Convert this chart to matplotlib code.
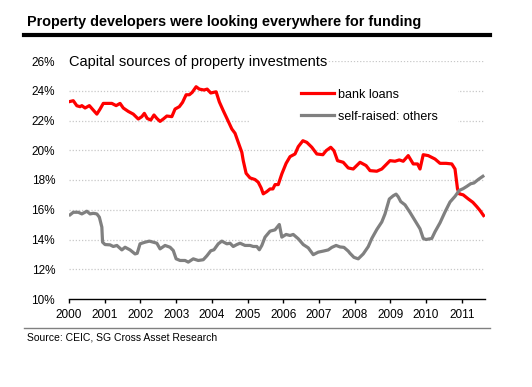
import matplotlib
matplotlib.use("Agg")
from matplotlib import pyplot as plt
from matplotlib.lines import Line2D
from matplotlib.patches import Rectangle

plt.rcParams['font.family'] = ['Liberation Sans', 'DejaVu Sans']

# bank loans share (%)
bank_t = [2000.03, 2000.12, 2000.22, 2000.31, 2000.36, 2000.45, 2000.57, 2000.68, 2000.78, 2000.87,
          2000.96, 2001.20, 2001.32, 2001.43, 2001.52, 2001.66, 2001.80, 2001.94, 2002.04, 2002.11,
          2002.19, 2002.29, 2002.38, 2002.46, 2002.55, 2002.64, 2002.74, 2002.88, 2002.97, 2003.09,
          2003.18, 2003.28, 2003.37, 2003.45, 2003.56, 2003.65, 2003.78, 2003.87, 2003.97, 2004.12,
          2004.21, 2004.32, 2004.43, 2004.56, 2004.65, 2004.74, 2004.84, 2004.88, 2004.96, 2005.07,
          2005.21, 2005.30, 2005.38, 2005.44, 2005.54, 2005.63, 2005.71, 2005.77, 2005.86, 2005.96,
          2006.08, 2006.19, 2006.33, 2006.42, 2006.55, 2006.66, 2006.80, 2006.94, 2007.11, 2007.20,
          2007.33, 2007.42, 2007.52, 2007.68, 2007.82, 2007.96, 2008.15, 2008.32, 2008.43, 2008.62,
          2008.76, 2008.90, 2008.99, 2009.13, 2009.25, 2009.36, 2009.50, 2009.64, 2009.76, 2009.83,
          2009.92, 2010.06, 2010.25, 2010.39, 2010.56, 2010.72, 2010.81, 2010.88, 2010.93, 2011.04,
          2011.18, 2011.31, 2011.42, 2011.51, 2011.61]
bank = [23.28, 23.33, 22.99, 22.93, 23.0, 22.84, 23.0, 22.7, 22.43, 22.77,
        23.15, 23.15, 23.0, 23.15, 22.84, 22.61, 22.43, 22.1, 22.26, 22.48,
        22.14, 22.03, 22.37, 22.14, 21.94, 22.1, 22.3, 22.26, 22.77, 22.93,
        23.22, 23.73, 23.73, 23.89, 24.27, 24.11, 24.05, 24.11, 23.85, 23.93,
        23.25, 22.66, 22.1, 21.43, 21.14, 20.53, 19.86, 19.3, 18.45, 18.14,
        18.03, 17.85, 17.47, 17.07, 17.22, 17.4, 17.4, 17.69, 17.69, 18.41,
        19.12, 19.57, 19.75, 20.24, 20.64, 20.53, 20.2, 19.75, 19.7, 19.97,
        20.2, 19.97, 19.3, 19.19, 18.81, 18.74, 19.19, 18.97, 18.63, 18.59,
        18.74, 19.08, 19.3, 19.26, 19.35, 19.26, 19.64, 19.08, 19.08, 18.74,
        19.7, 19.64, 19.41, 19.12, 19.12, 19.08, 18.74, 17.4, 17.07, 17.0,
        16.73, 16.5, 16.21, 15.95, 15.61]

# self-raised: others share (%)
self_t = [2000.03, 2000.12, 2000.26, 2000.36, 2000.50, 2000.59, 2000.68, 2000.78, 2000.85, 2000.92,
          2000.94, 2001.01, 2001.15, 2001.24, 2001.34, 2001.48, 2001.57, 2001.71, 2001.85, 2001.91,
          2001.99, 2002.13, 2002.25, 2002.36, 2002.46, 2002.55, 2002.69, 2002.83, 2002.92, 2003.00,
          2003.11, 2003.25, 2003.34, 2003.48, 2003.62, 2003.76, 2003.86, 2003.97, 2004.06, 2004.18,
          2004.28, 2004.42, 2004.51, 2004.60, 2004.70, 2004.79, 2004.93, 2005.07, 2005.16, 2005.26,
          2005.33, 2005.40, 2005.49, 2005.63, 2005.77, 2005.89, 2005.96, 2006.08, 2006.19, 2006.28,
          2006.42, 2006.56, 2006.70, 2006.84, 2006.98, 2007.12, 2007.26, 2007.36, 2007.48, 2007.59,
          2007.70, 2007.82, 2007.87, 2007.98, 2008.10, 2008.24, 2008.38, 2008.48, 2008.62, 2008.76,
          2008.85, 2008.97, 2009.08, 2009.16, 2009.22, 2009.29, 2009.41, 2009.55, 2009.69, 2009.83,
          2009.92, 2010.00, 2010.16, 2010.25, 2010.39, 2010.53, 2010.67, 2010.81, 2010.93, 2011.04,
          2011.14, 2011.25, 2011.34, 2011.47, 2011.59]
self_raised = [15.66, 15.83, 15.83, 15.72, 15.9, 15.72, 15.76, 15.72, 15.5, 14.83,
               13.82, 13.66, 13.64, 13.53, 13.6, 13.3, 13.48, 13.3, 13.03, 13.07,
               13.71, 13.82, 13.89, 13.82, 13.75, 13.37, 13.6, 13.48, 13.26, 12.7,
               12.59, 12.59, 12.48, 12.7, 12.59, 12.64, 12.9, 13.24, 13.31, 13.71,
               13.89, 13.71, 13.75, 13.53, 13.66, 13.75, 13.6, 13.6, 13.53, 13.53,
               13.31, 13.6, 14.16, 14.56, 14.65, 15.01, 14.16, 14.34, 14.27, 14.34,
               14.05, 13.66, 13.44, 12.98, 13.15, 13.22, 13.3, 13.47, 13.6, 13.5,
               13.47, 13.22, 13.07, 12.8, 12.7, 13.03, 13.52, 14.07, 14.67, 15.18,
               15.72, 16.72, 16.94, 17.05, 16.87, 16.55, 16.33, 15.82, 15.27, 14.72,
               14.07, 14.0, 14.07, 14.52, 15.12, 15.85, 16.52, 16.9, 17.3, 17.42,
               17.57, 17.75, 17.8, 18.05, 18.25]

years = list(range(2000, 2012))
yticks = list(range(10, 27, 2))

W, H = 532, 387
fig = plt.figure(figsize=(W / 100, H / 100), dpi=100)
ax = fig.add_axes([69 / W, 1 - 299 / H, (485 - 69) / W, (299 - 61) / H])

ax.plot(bank_t, bank, color='#ff0000', lw=2.3, label='bank loans', zorder=3, solid_joinstyle='round')
ax.plot(self_t, self_raised, color='#808080', lw=2.3, label='self-raised: others', zorder=3,
        solid_joinstyle='round')

ax.set_xlim(2000, 2011.65)
ax.set_ylim(10, 26)
ax.set_yticks(yticks)
ax.set_yticklabels([f'{v}%' for v in yticks])
ax.set_xticks(years)
ax.set_xticklabels([str(y) for y in years])
ax.tick_params(axis='y', length=0, pad=10, labelsize=8.5)
ax.tick_params(axis='x', length=3, width=1, pad=4, labelsize=8.5, direction='out')

for v in yticks[1:]:
    ax.axhline(v, color='#c8c8c8', lw=0.9, ls=(0, (1, 1.5)), zorder=1)

for s in ['left', 'right', 'top']:
    ax.spines[s].set_visible(False)
ax.spines['bottom'].set_linewidth(1)

# white patches behind subtitle and legend hide the grid there
ax.add_patch(Rectangle((0, 0.955), 0.62, 0.06, transform=ax.transAxes, facecolor='white',
                       edgecolor='none', zorder=2, clip_on=False))
ax.add_patch(Rectangle((0.435, 0.72), 0.5, 0.17, transform=ax.transAxes, facecolor='white',
                       edgecolor='none', zorder=2))

ax.text(0, 0.995, 'Capital sources of property investments', transform=ax.transAxes,
        fontsize=10.5, va='center', ha='left', zorder=4)

ax.legend(loc='upper left', bbox_to_anchor=(0.545, 0.905), frameon=False, fontsize=9,
          handlelength=2.7, handletextpad=0.3, labelspacing=0.8, borderaxespad=0)

fig.text(27 / W, 1 - 22 / H, 'Property developers were looking everywhere for funding',
         fontsize=10.4, fontweight='bold', va='center', ha='left')
fig.add_artist(Line2D([24 / W, 490 / W], [1 - 35 / H, 1 - 35 / H], color='black', lw=3))
fig.add_artist(Line2D([24 / W, 490 / W], [1 - 328 / H, 1 - 328 / H], color='#808080', lw=1))
fig.text(27 / W, 1 - 337 / H, 'Source: CEIC, SG Cross Asset Research', fontsize=7.5,
         va='center', ha='left')

fig.savefig('out.png', dpi=100)
